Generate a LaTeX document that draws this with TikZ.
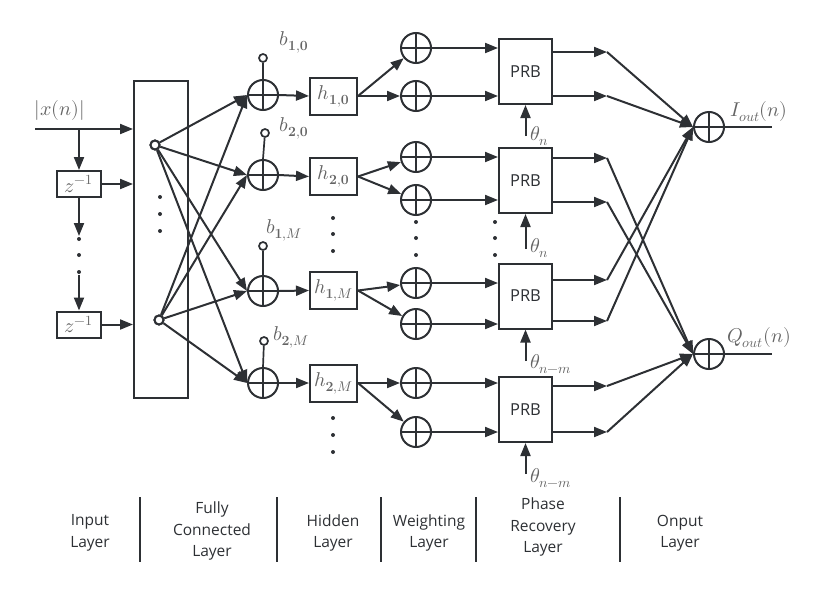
\documentclass[tikz,border=0pt]{standalone}
\usepackage{fontspec}
\usepackage{unicode-math}
\setmathfont{Latin Modern Math}
\setsansfont{Open Sans}
\usetikzlibrary{arrows.meta}
\definecolor{ln}{RGB}{45,48,52}
\definecolor{lab}{RGB}{100,100,100}
\begin{document}
\begin{tikzpicture}[x=1pt,y=-1pt,line width=2pt,ln,
  >={Triangle[length=13pt,width=10pt]},
  sum/.style={circle,draw=ln,minimum size=30pt,inner sep=0pt,
    path picture={\draw[ln,line width=2pt] (path picture bounding box.north) -- (path picture bounding box.south)
      (path picture bounding box.west) -- (path picture bounding box.east);}},
  bias/.style={circle,draw=ln,fill=white,minimum size=8pt,inner sep=0pt,line width=1.7pt},
  fcn/.style={circle,draw=ln,fill=white,minimum size=9pt,inner sep=0pt,line width=2pt},
  zbox/.style={draw=ln,minimum width=44pt,minimum height=26pt,inner sep=0pt},
  hbox/.style={draw=ln,minimum width=47pt,minimum height=37pt,inner sep=0pt},
  prb/.style={draw=ln,minimum width=53pt,minimum height=65pt,inner sep=0pt,font=\sffamily\fontsize{16.5}{18}\selectfont,text=ln},
  mlab/.style={text=lab,font=\fontsize{20}{22}\selectfont,inner sep=0pt},
  layer/.style={text=ln,font=\sffamily\fontsize{15.5}{21.5}\selectfont,align=center,inner sep=0pt},
  dotm/.style={circle,fill=ln,minimum size=4pt,inner sep=0pt,draw=none},
  sep/.style={line width=2pt,ln}]
\useasboundingbox (0,0) rectangle (826,589);

% ---------- input layer ----------
\coordinate (in0) at (35,129);
\coordinate (br) at (79,129);
\node[mlab] (xlab) at (60,110) {$|x(n)|$};
\node[draw=ln,minimum width=54pt,minimum height=317pt,inner sep=0pt] (fc) at (161,239.5) {};
\node[zbox] (z1) at (79,184) {};
\node[mlab] at (z1) {$z^{-1}$};
\node[zbox] (z2) at (79,324.5) {};
\node[mlab] at (z2) {$z^{-1}$};
\node[dotm] (zd1) at (79,239) {};
\node[dotm] (zd2) at (79,255) {};
\node[dotm] (zd3) at (79,272) {};
\coordinate (zd0) at (79,236);
\draw[->] (in0) -- (in0 -| fc.west);
\draw[->] (br) -- (z1.north);
\draw[->] (z1.east) -- (z1.east -| fc.west);
\draw[->] (z1.south) -- (zd0);
\draw[->] (zd3) -- (z2.north);
\draw[->] (z2.east) -- (z2.east -| fc.west);

% ---------- fully connected ----------
\node[fcn] (n1) at (155,145) {};
\node[fcn] (n2) at (159,320) {};
\node[dotm] at (160,197) {};
\node[dotm] at (160,214) {};
\node[dotm] at (160,231) {};

\node[sum] (s1) at (263,95) {};
\node[sum] (s2) at (263,175) {};
\node[sum] (s3) at (263,291) {};
\node[sum] (s4) at (263,383) {};
\foreach \s in {s1,s2,s3,s4}{
  \draw[->] (n1) -- (\s.west);
  \draw[->] (n2) -- (\s.west);
}
\node[fcn] at (155,145) {};
\node[fcn] at (159,320) {};

% biases
\node[bias] (b1) at (263,58) {};
\node[bias] (b2) at (265,133) {};
\node[bias] (b3) at (263,246) {};
\node[bias] (b4) at (264,341) {};
\draw[line width=1.7pt] (b1) -- (s1.north);
\draw[line width=1.7pt] (b2) -- (s2.north);
\draw[line width=1.7pt] (b3) -- (s3.north);
\draw[line width=1.7pt] (b4) -- (s4.north);
\node[mlab] at (294,42) {$b_{\mathbf{1,0}}$};
\node[mlab] at (294,128) {$b_{\mathbf{2,0}}$};
\node[mlab] at (284,230) {$b_{\mathbf{1},M}$};
\node[mlab] at (291,337) {$b_{\mathbf{2},M}$};

% ---------- hidden layer ----------
\node[hbox] (h1) at (333.5,96) {};
\node[hbox] (h2) at (333.5,176.5) {};
\node[hbox] (h3) at (333.5,290.5) {};
\node[hbox] (h4) at (333.5,383) {};
\node[mlab] at (h1) {$h_{\mathbf{1,0}}$};
\node[mlab] at (h2) {$h_{\mathbf{2,0}}$};
\node[mlab] at (h3) {$h_{\mathbf{1},M}$};
\node[mlab] at (h4) {$h_{\mathbf{2},M}$};
\draw[->] (s1.east) -- (h1.west);
\draw[->] (s2.east) -- (h2.west);
\draw[->] (s3.east) -- (h3.west);
\draw[->] (s4.east) -- (h4.west);
\foreach \y in {218,234,251,418,435,452}{\node[dotm] at (333,\y) {};}

% ---------- weighting layer ----------
\node[sum] (w1) at (416,48) {};
\node[sum] (w2) at (416,96) {};
\node[sum] (w3) at (416,157) {};
\node[sum] (w4) at (416,200) {};
\node[sum] (w5) at (416,283) {};
\node[sum] (w6) at (416,324) {};
\node[sum] (w7) at (416,383) {};
\node[sum] (w8) at (416,432) {};
\draw[->] (h1.east) -- (w1);
\draw[->] (h1.east) -- (w2.west);
\draw[->] (h2.east) -- (w3);
\draw[->] (h2.east) -- (w4);
\draw[->] (h3.east) -- (w5);
\draw[->] (h3.east) -- (w6);
\draw[->] (h4.east) -- (w7.west);
\draw[->] (h4.east) -- (w8);
\foreach \y in {222,238,255}{\node[dotm] at (416,\y) {}; \node[dotm] at (495,\y) {};}

% ---------- phase recovery layer ----------
\node[prb] (p1) at (525.5,71.5) {PRB};
\node[prb] (p2) at (525.5,180.5) {PRB};
\node[prb] (p3) at (525.5,296) {PRB};
\node[prb] (p4) at (525.5,409.5) {PRB};
\draw[->] (w1.east) -- (w1.east -| p1.west);
\draw[->] (w2.east) -- (w2.east -| p1.west);
\draw[->] (w3.east) -- (w3.east -| p2.west);
\draw[->] (w4.east) -- (w4.east -| p2.west);
\draw[->] (w5.east) -- (w5.east -| p3.west);
\draw[->] (w6.east) -- (w6.east -| p3.west);
\draw[->] (w7.east) -- (w7.east -| p4.west);
\draw[->] (w8.east) -- (w8.east -| p4.west);
\coordinate (t1) at (525.5,136);
\coordinate (t2) at (525.5,249);
\coordinate (t3) at (525.5,361);
\coordinate (t4) at (525.5,474);
\draw[->] (t1) -- (p1.south);
\draw[->] (t2) -- (p2.south);
\draw[->] (t3) -- (p3.south);
\draw[->] (t4) -- (p4.south);
\node[mlab,anchor=west] at (529,136) {$\theta_n$};
\node[mlab,anchor=west] at (529,248) {$\theta_n$};
\node[mlab,anchor=west] at (529,364) {$\theta_{n-m}$};
\node[mlab,anchor=west] at (529,478) {$\theta_{n-m}$};

% PRB outputs
\coordinate (o1) at (607,52);
\coordinate (o2) at (607,96);
\coordinate (o3) at (607,158);
\coordinate (o4) at (607,202);
\coordinate (o5) at (607,280);
\coordinate (o6) at (607,321);
\coordinate (o7) at (607,386);
\coordinate (o8) at (607,432);
\draw[->] (o1 -| p1.east) -- (o1);
\draw[->] (o2 -| p1.east) -- (o2);
\draw[->] (o3 -| p2.east) -- (o3);
\draw[->] (o4 -| p2.east) -- (o4);
\draw[->] (o5 -| p3.east) -- (o5);
\draw[->] (o6 -| p3.east) -- (o6);
\draw[->] (o7 -| p4.east) -- (o7);
\draw[->] (o8 -| p4.east) -- (o8);

% ---------- output layer ----------
\node[sum] (iq) at (709,127) {};
\node[sum] (qq) at (709,354) {};
\draw[->] (o1) -- (iq.west);
\draw[->] (o2) -- (iq.west);
\draw[->] (o5) -- (iq.west);
\draw[->] (o6) -- (iq.west);
\draw[->] (o3) -- (qq.west);
\draw[->] (o4) -- (qq.west);
\draw[->] (o7) -- (qq.west);
\draw[->] (o8) -- (qq.west);
\coordinate (ie) at (772,127);
\coordinate (qe) at (772,354);
\draw (iq.east) -- (ie);
\draw (qq.east) -- (qe);
\node[mlab] at (759,112) {$I_{out}(n)$};
\node[mlab] at (759,338) {$Q_{out}(n)$};

% ---------- layer captions ----------
\foreach \x in {140,277,381,476,620}{\draw[sep] (\x,497) -- (\x,562);}
\node[layer] at (90,533) {Input\\Layer};
\node[layer] at (212,531) {Fully\\Connected\\Layer};
\node[layer] at (333,533) {Hidden\\Layer};
\node[layer] at (429,533) {Weighting\\Layer};
\node[layer] at (543,527) {Phase\\Recovery\\Layer};
\node[layer] at (680,533) {Onput\\Layer};
\end{tikzpicture}
\end{document}
